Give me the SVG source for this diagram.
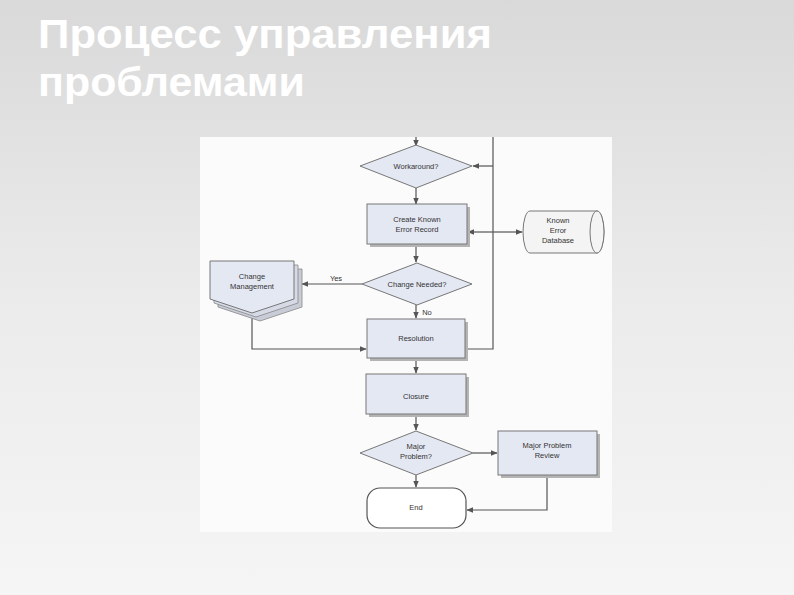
<svg xmlns="http://www.w3.org/2000/svg" width="794" height="595" viewBox="0 0 794 595">
<defs>
<linearGradient id="bg" x1="0" y1="0" x2="0" y2="1">
<stop offset="0" stop-color="#d9d9d9"/>
<stop offset="0.5" stop-color="#ebebeb"/>
<stop offset="1" stop-color="#f5f5f5"/>
</linearGradient>
<marker id="ah" viewBox="0 0 10 10" refX="9" refY="5" markerWidth="7" markerHeight="7" markerUnits="userSpaceOnUse" orient="auto">
<path d="M0,1 L10,5 L0,9 Z" fill="#555"/>
</marker>
</defs>
<style>
.t{font-family:"Liberation Sans",Arial,sans-serif;font-size:7.5px;fill:#333;text-anchor:middle}
.box{fill:#e4e8f3;stroke:#777;stroke-width:1}
.sh{fill:#b4b4b4}
.ln{fill:none;stroke:#555;stroke-width:1.2}
.title{font-family:"Liberation Sans",Arial,sans-serif;font-size:41px;font-weight:bold;fill:#ffffff}
</style>
<rect x="0" y="0" width="794" height="595" fill="url(#bg)"/>
<text class="title" x="38" y="48" textLength="454" lengthAdjust="spacingAndGlyphs">Процесс управления</text>
<text class="title" x="38" y="96" textLength="267" lengthAdjust="spacingAndGlyphs">проблемами</text>
<rect x="200" y="137" width="412" height="395" fill="#fbfbfb"/>

<g id="connectors">
<line class="ln" x1="416" y1="137" x2="416" y2="146" marker-end="url(#ah)"/>
<polyline class="ln" points="467,349 493,349 493,137"/>
<line class="ln" x1="493" y1="166" x2="473" y2="166" marker-end="url(#ah)"/>
<line class="ln" x1="416" y1="188" x2="416" y2="204" marker-end="url(#ah)"/>
<line class="ln" x1="495" y1="232" x2="468" y2="232" marker-end="url(#ah)"/>
<line class="ln" x1="495" y1="232" x2="522" y2="232" marker-end="url(#ah)"/>
<line class="ln" x1="416" y1="244" x2="416" y2="262" marker-end="url(#ah)"/>
<line class="ln" x1="362" y1="284" x2="302" y2="284" marker-end="url(#ah)"/>
<text class="t" x="336" y="281">Yes</text>
<line class="ln" x1="416" y1="305" x2="416" y2="318" marker-end="url(#ah)"/>
<text class="t" x="427" y="315">No</text>
<polyline class="ln" points="252,316 252,349 366,349" marker-end="url(#ah)"/>
<line class="ln" x1="416" y1="358" x2="416" y2="373" marker-end="url(#ah)"/>
<line class="ln" x1="416" y1="414" x2="416" y2="430" marker-end="url(#ah)"/>
<line class="ln" x1="473" y1="453" x2="497" y2="453" marker-end="url(#ah)"/>
<line class="ln" x1="416" y1="475" x2="416" y2="487" marker-end="url(#ah)"/>
<polyline class="ln" points="547,476 547,510 467,510" marker-end="url(#ah)"/>
</g>

<g id="workaround">
<polygon class="box" points="416,145 472,166 416,188 360,166"/>
<text class="t" x="416" y="169">Workaround?</text>
</g>

<g id="create-ker">
<rect class="sh" x="370" y="207" width="100" height="40"/>
<rect class="box" x="367" y="204" width="100" height="40"/>
<text class="t" x="417" y="222">Create Known</text>
<text class="t" x="417" y="232">Error Record</text>
</g>

<g id="ke-database">
<path d="M530,211 L597,211 A7,21 0 0 1 597,253 L530,253 A7,21 0 0 1 530,211 Z" fill="#f4f4f4" stroke="#777" stroke-width="1"/>
<ellipse cx="597" cy="232" rx="7" ry="21" fill="#f4f4f4" stroke="#777" stroke-width="1"/>
<text class="t" x="558" y="223">Known</text>
<text class="t" x="558" y="233">Error</text>
<text class="t" x="558" y="243">Database</text>
</g>

<g id="change-needed">
<polygon class="box" points="417,263 472,284 417,305 362,284"/>
<text class="t" x="417" y="287">Change Needed?</text>
</g>

<g id="change-management">
<polygon points="218,269 302,269 302,307 260,321 218,307" fill="#c8ccd6" stroke="#888" stroke-width="0.8"/>
<polygon points="214,265 298,265 298,303 256,317 214,303" fill="#d6dae6" stroke="#888" stroke-width="0.8"/>
<polygon class="box" points="210,261 294,261 294,299 252,313 210,299"/>
<text class="t" x="252" y="279">Change</text>
<text class="t" x="252" y="289">Management</text>
</g>

<g id="resolution">
<rect class="sh" x="370" y="322" width="98" height="39"/>
<rect class="box" x="367" y="319" width="98" height="39"/>
<text class="t" x="416" y="341">Resolution</text>
</g>

<g id="closure">
<rect class="sh" x="369" y="377" width="100" height="40"/>
<rect class="box" x="366" y="374" width="100" height="40"/>
<text class="t" x="416" y="399">Closure</text>
</g>

<g id="major-problem">
<polygon class="box" points="416,431 473,453 416,475 360,453"/>
<text class="t" x="416" y="449">Major</text>
<text class="t" x="416" y="459">Problem?</text>
</g>

<g id="major-problem-review">
<rect class="sh" x="501" y="434" width="99" height="44"/>
<rect class="box" x="498" y="431" width="99" height="44"/>
<text class="t" x="547" y="448">Major Problem</text>
<text class="t" x="547" y="458">Review</text>
</g>

<g id="end">
<rect x="367" y="488" width="99" height="40" rx="13" ry="13" fill="#fff" stroke="#555" stroke-width="1.2"/>
<text class="t" x="416" y="510">End</text>
</g>
</svg>
